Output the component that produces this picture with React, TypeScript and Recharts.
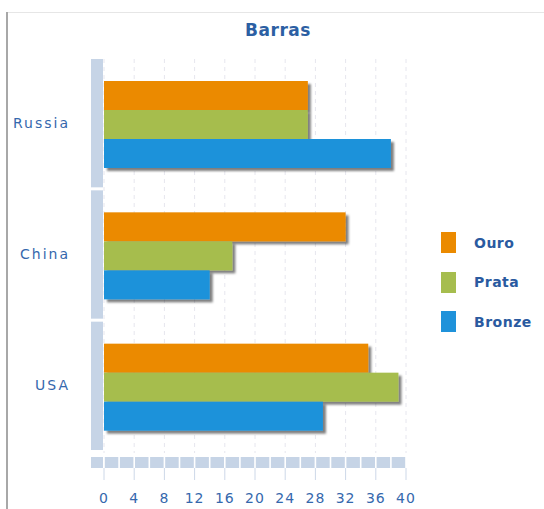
import React from 'react';
import { BarChart, Bar, XAxis, YAxis, CartesianGrid, Legend } from 'recharts';

const countries = ['Russia', 'China', 'USA'];
const seriesNames = ['Ouro', 'Prata', 'Bronze'];
const ouro = [27, 32, 35];
const prata = [27, 17, 39];
const bronze = [38, 14, 29];
const xTicks = [0, 2, 4, 6, 8, 10, 12, 14, 16, 18, 20, 22, 24, 26, 28, 30, 32, 34, 36, 38, 40];
const gridValues = [0, 4, 8, 12, 16, 20, 24, 28, 32, 36, 40];

const data = countries.map((country, i) => ({
  country,
  ouro: ouro[i],
  prata: prata[i],
  bronze: bronze[i],
}));

const AXIS = '#c6d4e6';
const LABEL = '#3568ad';
const FONT = '"DejaVu Sans", Verdana, sans-serif';

// eslint-disable-next-line @typescript-eslint/no-explicit-any
const ShadowBar = (props: any) => {
  const { x, y, width, height, fill } = props;
  return <rect x={x} y={y} width={width} height={height} fill={fill} filter="url(#barShadow)" />;
};

// eslint-disable-next-line @typescript-eslint/no-explicit-any
const XTick = (props: any) => {
  const { x, y, payload, width } = props;
  const v = payload.value;
  const step = (width || 302) / (xTicks.length - 1);
  return (
    <g>
      {v === 0 && <rect x={x - 13} y={y + 4} width={12} height={11} fill={AXIS} />}
      {v < 40 && <rect x={x + 0.8} y={y + 4} width={step - 1.6} height={11} fill={AXIS} />}
      {v % 4 === 0 && <line x1={x} x2={x} y1={y + 15} y2={y + 27} stroke="#cdd8e8" />}
      {v % 4 === 0 && (
        <text
          x={x}
          y={y + 45}
          textAnchor="middle"
          dominantBaseline="central"
          fill={LABEL}
          fontSize={14}
          fontFamily={FONT}
          letterSpacing={1}
        >
          {v}
        </text>
      )}
    </g>
  );
};

// eslint-disable-next-line @typescript-eslint/no-explicit-any
const YTick = (props: any) => {
  const { x, y, payload, height } = props;
  const band = (height || 394) / countries.length;
  return (
    <g>
      <rect x={x - 13} y={y - band / 2} width={12} height={band - 3} fill={AXIS} />
      <text
        x={x - 34}
        y={y - 2}
        textAnchor="end"
        dominantBaseline="central"
        fill={LABEL}
        fontSize={14}
        fontFamily={FONT}
        letterSpacing={2}
      >
        {payload.value}
      </text>
    </g>
  );
};

// eslint-disable-next-line @typescript-eslint/no-explicit-any
const renderLegend = ({ payload }: any) => {
  // eslint-disable-next-line @typescript-eslint/no-explicit-any
  const items = seriesNames.map((n) => (payload || []).find((p: any) => p.value === n)).filter(Boolean);
  return (
    <div style={{ width: 138, paddingLeft: 35, boxSizing: 'border-box' }}>
      {/* eslint-disable-next-line @typescript-eslint/no-explicit-any */}
      {items.map((entry: any) => (
        <div key={entry.value} style={{ display: 'flex', alignItems: 'center', height: 21, marginBottom: 18.5 }}>
          <div style={{ width: 15, height: 21, background: entry.color }} />
          <span
            style={{
              marginLeft: 18,
              color: '#2a5aa0',
              fontFamily: FONT,
              fontWeight: 'bold',
              fontSize: 14,
              letterSpacing: 0.5,
            }}
          >
            {entry.value}
          </span>
        </div>
      ))}
    </div>
  );
};

// eslint-disable-next-line @typescript-eslint/no-explicit-any
const gridX = ({ xAxis, offset }: any) =>
  gridValues.map((v) =>
    xAxis && typeof xAxis.scale === 'function' ? xAxis.scale(v) : offset.left + (v / 40) * offset.width
  );

export default function App() {
  return (
    <div style={{ position: 'absolute', left: 0, top: 0, width: 544, height: 509, background: '#fff' }}>
      <div style={{ position: 'absolute', left: 6, top: 12, width: 538, height: 1, background: '#e6e6e6' }} />
      <div style={{ position: 'absolute', left: 6, top: 12, width: 2, height: 497, background: '#a8a8a8' }} />
      <div
        style={{
          position: 'absolute',
          left: 8,
          width: 540,
          top: 20,
          textAlign: 'center',
          color: '#2c5fa3',
          fontFamily: FONT,
          fontWeight: 'bold',
          fontSize: 17,
          letterSpacing: 0.5,
        }}
      >
        Barras
      </div>
      <BarChart
        width={544}
        height={509}
        data={data}
        layout="vertical"
        margin={{ top: 59, right: 0, bottom: 0, left: 0 }}
        barCategoryGap={22}
        barGap={0}
      >
        <defs>
          <filter id="barShadow" x="-10%" y="-30%" width="130%" height="180%">
            <feDropShadow dx="3" dy="3" stdDeviation="1.3" floodColor="#000" floodOpacity="0.5" />
          </filter>
        </defs>
        <CartesianGrid
          horizontal={false}
          verticalCoordinatesGenerator={gridX}
          stroke="#e6e6ee"
          strokeDasharray="4 4"
        />
        <XAxis
          type="number"
          domain={[0, 40]}
          ticks={xTicks}
          interval={0}
          height={56}
          axisLine={false}
          tickLine={false}
          tickSize={0}
          tickMargin={0}
          tick={<XTick />}
        />
        <YAxis
          type="category"
          dataKey="country"
          width={104}
          axisLine={false}
          tickLine={false}
          tickSize={0}
          tickMargin={0}
          tick={<YTick />}
        />
        <Legend
          layout="vertical"
          align="right"
          verticalAlign="middle"
          wrapperStyle={{ top: 232 }}
          content={renderLegend}
        />
        <Bar dataKey="ouro" name="Ouro" fill="#eb8a00" shape={<ShadowBar />} isAnimationActive={false} />
        <Bar dataKey="prata" name="Prata" fill="#a6bd4e" shape={<ShadowBar />} isAnimationActive={false} />
        <Bar dataKey="bronze" name="Bronze" fill="#1f92da" shape={<ShadowBar />} isAnimationActive={false} />
      </BarChart>
    </div>
  );
}
